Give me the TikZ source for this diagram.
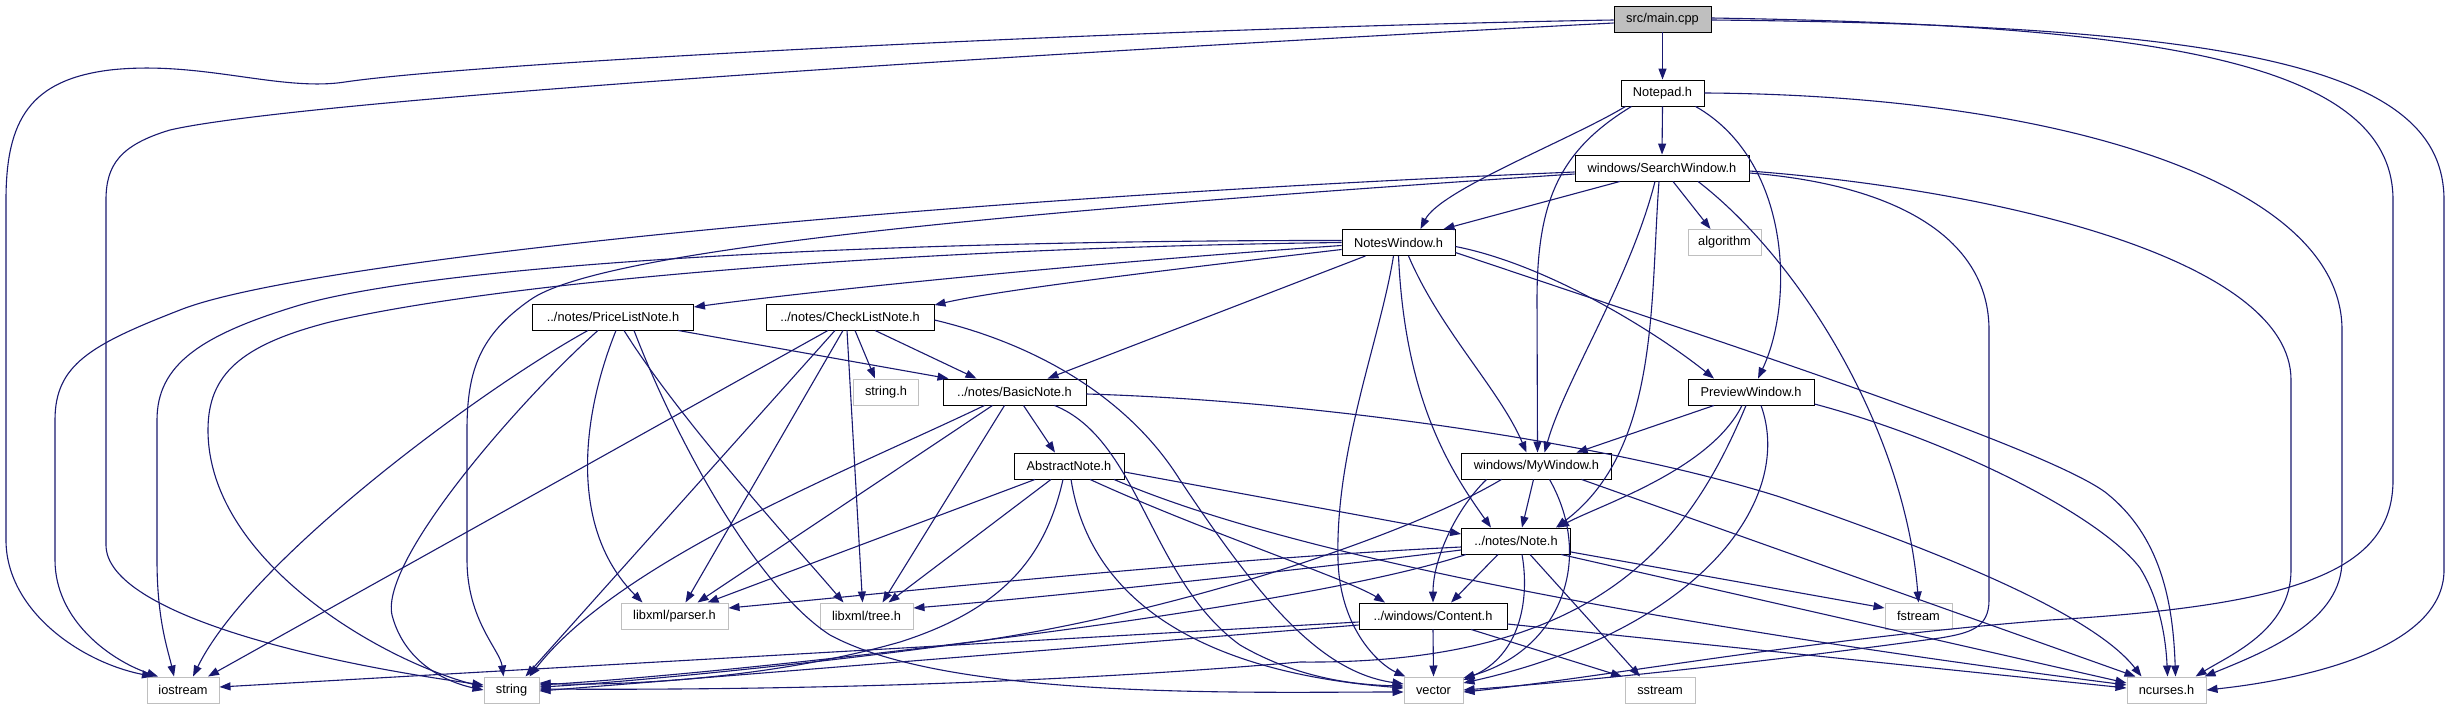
\documentclass[tikz,border=0pt]{standalone}
\usepackage{fontspec}
\setmainfont{Liberation Sans}
\usetikzlibrary{arrows.meta}
\definecolor{edgeblue}{HTML}{191970}
\definecolor{extgray}{HTML}{BFBFBF}
\begin{document}
\begin{tikzpicture}[x=1pt,y=-1pt,
  box/.style={rectangle,inner sep=0pt,minimum height=26pt,font=\fontsize{12.8}{15}\selectfont,text=black},
  int/.style={box,draw=black,line width=0.9pt,fill=white},
  ext/.style={box,draw=extgray,line width=1pt,fill=white},
  root/.style={box,draw=black,line width=0.9pt,fill=extgray},
  e/.style={draw=edgeblue,line width=1.1pt,-{Triangle[length=11pt,width=8pt]}}]
\fill[white] (0,0) rectangle (2451,709);
\useasboundingbox (0,0) rectangle (2451,709);
% nodes
\node[root,minimum width=97pt]  (main)    at (1662.5,19)  {src/main.cpp};
\node[int,minimum width=83pt]   (Notepad) at (1662.5,93)  {Notepad.h};
\node[int,minimum width=174pt]  (Search)  at (1662,168)   {windows/SearchWindow.h};
\node[int,minimum width=113pt]  (NotesW)  at (1398.5,242.5) {NotesWindow.h};
\node[ext,minimum width=73pt]   (algo)    at (1724.5,242.5) {algorithm};
\node[int,minimum width=161pt]  (Price)   at (613,317)    {../notes/PriceListNote.h};
\node[int,minimum width=168pt]  (Check)   at (850,317)    {../notes/CheckListNote.h};
\node[ext,minimum width=65pt]   (strh)    at (886,392)    {string.h};
\node[int,minimum width=143pt]  (Basic)   at (1014.5,392) {../notes/BasicNote.h};
\node[int,minimum width=126pt]  (Preview) at (1751,392)   {PreviewWindow.h};
\node[int,minimum width=110pt]  (Abstract) at (1069,466)  {AbstractNote.h};
\node[int,minimum width=150pt]  (MyW)     at (1536.5,466) {windows/MyWindow.h};
\node[int,minimum width=109pt]  (Note)    at (1516,541)   {../notes/Note.h};
\node[ext,minimum width=107pt]  (parser)  at (674.5,616)  {libxml/parser.h};
\node[ext,minimum width=93pt]   (tree)    at (866.5,616)  {libxml/tree.h};
\node[int,minimum width=148pt]  (Content) at (1433,616)   {../windows/Content.h};
\node[ext,minimum width=67pt]   (fstream) at (1918.5,616) {fstream};
\node[ext,minimum width=72pt]   (iostream) at (183,690)   {iostream};
\node[ext,minimum width=55pt]   (string)  at (511.5,690)  {string};
\node[ext,minimum width=59pt]   (vector)  at (1433.5,690) {vector};
\node[ext,minimum width=70pt]   (sstream) at (1660,690)   {sstream};
\node[ext,minimum width=79pt]   (ncurses) at (2166.5,690) {ncurses.h};
% main
\draw[e] (main.south) -- (Notepad.north);
\draw[e] ([yshift=-1pt]main.west) .. controls (1150,28) and (480,62) .. (345,82) .. controls (280,92) and (200,60) .. (110,70) .. controls (30,80) and (6,120) .. (6,200) -- (6,540) .. controls (6,610) and (80,662) .. ([xshift=-30pt]iostream.north);
\draw[e] ([yshift=-4pt]main.west) .. controls (1000,55) and (300,100) .. (170,130) .. controls (120,145) and (106,165) .. (106,200) -- (106,545) .. controls (106,610) and (300,660) .. ([yshift=5pt]string.west);
\draw[e] ([yshift=1pt]main.east) .. controls (2150,25) and (2393,60) .. (2393,200) -- (2393,480) .. controls (2393,570) and (2300,605) .. (2050,620) .. controls (1800,640) and (1600,678) .. ([yshift=-2pt]vector.east);
\draw[e] ([yshift=-1pt]main.east) .. controls (2250,25) and (2444,70) .. (2444,200) -- (2444,570) .. controls (2444,650) and (2300,680) .. (ncurses.east);
% Notepad
\draw[e] (Notepad.south) -- (Search.north);
\draw[e] ([xshift=-37pt]Notepad.south) .. controls (1570,140) and (1440,190) .. ([xshift=22pt]NotesW.north);
\draw[e] ([xshift=-31pt]Notepad.south) .. controls (1560,150) and (1537,200) .. (1537,300) -- ([xshift=1pt]MyW.north);
\draw[e] ([xshift=33pt]Notepad.south) .. controls (1790,160) and (1795,300) .. ([xshift=7pt]Preview.north);
\draw[e] (Notepad.east) .. controls (2050,95) and (2342,180) .. (2342,330) -- (2342,560) .. controls (2342,620) and (2270,650) .. ([xshift=38pt]ncurses.north);
% SearchWindow
\draw[e] ([xshift=-42pt]Search.south) -- ([xshift=45pt]NotesW.north);
\draw[e] ([xshift=11pt]Search.south) -- ([xshift=-14pt]algo.north);
\draw[e] ([xshift=-7pt]Search.south) .. controls (1630,280) and (1565,380) .. ([xshift=8pt]MyW.north);
\draw[e] ([xshift=-3pt]Search.south) .. controls (1650,300) and (1660,450) .. ([xshift=40pt]Note.north);
\draw[e] ([xshift=36pt]Search.south) .. controls (1800,260) and (1905,430) .. (fstream.north);
\draw[e] ([yshift=-5pt]Search.east) .. controls (1900,185) and (1989,240) .. (1989,330) -- (1989,600) .. controls (1989,628) and (1970,633) .. (1940,638) .. controls (1780,660) and (1600,680) .. ([yshift=0pt]vector.east);
\draw[e] ([yshift=-3pt]Search.east) .. controls (2000,190) and (2291,260) .. (2291,380) -- (2291,570) .. controls (2291,630) and (2230,655) .. ([xshift=29pt]ncurses.north);
\draw[e] ([yshift=-4pt]Search.west) .. controls (900,200) and (300,262) .. (180,310) .. controls (90,345) and (55,365) .. (55,420) -- (55,560) .. controls (55,620) and (110,660) .. ([xshift=-25pt]iostream.north);
\draw[e] ([yshift=-6pt]Search.west) .. controls (1000,212) and (600,250) .. (530,300) .. controls (480,335) and (467,370) .. (467,430) -- (467,560) .. controls (467,620) and (500,650) .. ([xshift=-8pt]string.north);
% NotesWindow
\draw[e] ([yshift=-3pt]NotesW.west) .. controls (1100,262) and (820,290) .. ([yshift=10pt]Price.east);
\draw[e] ([yshift=-7pt]NotesW.west) .. controls (1150,272) and (1000,290) .. ([yshift=12pt]Check.east);
\draw[e] ([yshift=2pt]NotesW.west) .. controls (900,240) and (450,262) .. (300,305) .. controls (200,335) and (157,365) .. (157,420) -- (157,560) .. controls (157,620) and (168,650) .. ([xshift=-9pt]iostream.north);
\draw[e] ([yshift=0pt]NotesW.west) .. controls (900,248) and (500,282) .. (330,322) .. controls (240,345) and (208,375) .. (208,430) .. controls (208,560) and (380,660) .. ([yshift=3pt]string.west);
\draw[e] ([xshift=-33pt]NotesW.south) -- ([xshift=33pt]Basic.north);
\draw[e] ([xshift=-5pt]NotesW.south) .. controls (1380,340) and (1335,450) .. (1338,560) .. controls (1340,630) and (1380,665) .. ([xshift=-28pt]vector.north);
\draw[e] (NotesW.south) .. controls (1405,400) and (1450,470) .. ([xshift=-25pt]Note.north);
\draw[e] ([xshift=10pt]NotesW.south) .. controls (1440,330) and (1500,390) .. ([xshift=-10pt]MyW.north);
\draw[e] ([yshift=-4pt]NotesW.east) .. controls (1550,265) and (1660,335) .. ([xshift=-37pt]Preview.north);
\draw[e] ([yshift=-10pt]NotesW.east) .. controls (1700,335) and (2040,445) .. (2105,492) .. controls (2160,535) and (2173,600) .. ([xshift=9pt]ncurses.north);
% PriceListNote
\draw[e] ([xshift=65pt]Price.south) -- ([xshift=-66pt]Basic.north);
\draw[e] ([xshift=-25pt]Price.south) .. controls (480,390) and (250,560) .. ([xshift=10pt]iostream.north);
\draw[e] ([xshift=-15pt]Price.south) .. controls (520,400) and (380,560) .. (392,615) .. controls (405,665) and (450,683) .. ([yshift=0pt]string.west);
\draw[e] ([xshift=3pt]Price.south) .. controls (580,420) and (570,530) .. ([xshift=-32pt]parser.north);
\draw[e] ([xshift=11pt]Price.south) .. controls (680,420) and (790,540) .. ([xshift=-23pt]tree.north);
\draw[e] ([xshift=21pt]Price.south) .. controls (680,450) and (760,590) .. (830,635) .. controls (950,700) and (1250,692) .. ([yshift=-2pt]vector.west);
% CheckListNote
\draw[e] ([xshift=-22pt]Check.south) -- ([xshift=25pt]iostream.north);
\draw[e] ([xshift=-15pt]Check.south) -- ([xshift=14pt]string.north);
\draw[e] ([xshift=-7pt]Check.south) -- ([xshift=11pt]parser.north);
\draw[e] ([xshift=-3pt]Check.south) -- ([xshift=-4pt]tree.north);
\draw[e] ([xshift=5pt]Check.south) -- ([xshift=-11pt]strh.north);
\draw[e] ([xshift=25pt]Check.south) -- ([xshift=-38pt]Basic.north);
\draw[e] ([yshift=-3pt]Check.east) .. controls (1040,345) and (1130,400) .. (1180,480) .. controls (1260,600) and (1320,672) .. ([yshift=6pt]vector.west);
% BasicNote
\draw[e] ([xshift=9pt]Basic.south) -- ([xshift=-14pt]Abstract.north);
\draw[e] ([xshift=-22pt]Basic.south) -- ([xshift=23pt]parser.north);
\draw[e] ([xshift=-10pt]Basic.south) -- ([xshift=16pt]tree.north);
\draw[e] ([xshift=-30pt]Basic.south) .. controls (850,470) and (620,560) .. ([xshift=18pt]string.north);
\draw[e] ([xshift=40pt]Basic.south) .. controls (1140,440) and (1150,580) .. (1240,645) .. controls (1300,680) and (1360,685) .. ([yshift=4pt]vector.west);
\draw[e] ([yshift=-2pt]Basic.east) .. controls (1300,400) and (1600,440) .. (1780,497) .. controls (1920,545) and (2090,610) .. ([xshift=-25pt]ncurses.north);
% AbstractNote
\draw[e] ([xshift=-34pt]Abstract.south) -- ([xshift=33pt]parser.north);
\draw[e] ([xshift=-18pt]Abstract.south) -- ([xshift=22pt]tree.north);
\draw[e] ([xshift=-6pt]Abstract.south) .. controls (1045,560) and (1000,610) .. (900,642) .. controls (760,682) and (600,686) .. ([yshift=7pt]string.east);
\draw[e] ([xshift=2pt]Abstract.south) .. controls (1090,600) and (1200,672) .. ([yshift=2pt]vector.west);
\draw[e] ([xshift=21pt]Abstract.south) .. controls (1200,530) and (1350,580) .. ([xshift=-48pt]Content.north);
\draw[e] ([yshift=-6pt]Abstract.east) -- ([yshift=7pt]Note.west);
\draw[e] ([xshift=45pt]Abstract.south) .. controls (1300,560) and (1700,630) .. ([yshift=5pt]ncurses.west);
% MyWindow
\draw[e] ([xshift=-3pt]MyW.south) -- ([xshift=6pt]Note.north);
\draw[e] ([xshift=-50pt]MyW.south) .. controls (1455,510) and (1433,560) .. (Content.north);
\draw[e] ([xshift=13pt]MyW.south) .. controls (1595,560) and (1560,650) .. ([yshift=12pt]vector.east);
\draw[e] ([xshift=-35pt]MyW.south) .. controls (1400,540) and (1150,620) .. (950,645) .. controls (780,668) and (600,684) .. ([yshift=3pt]string.east);
\draw[e] ([xshift=45pt]MyW.south) -- ([xshift=-31pt]ncurses.north);
% PreviewWindow
\draw[e] ([xshift=-37pt]Preview.south) -- ([xshift=40pt]MyW.north);
\draw[e] ([xshift=-9pt]Preview.south) .. controls (1710,470) and (1600,505) .. ([xshift=42pt]Note.north);
\draw[e] ([xshift=-5pt]Preview.south) .. controls (1690,540) and (1600,665) .. (1300,662) .. controls (1000,688) and (700,690) .. ([yshift=1pt]string.east);
\draw[e] ([xshift=10pt]Preview.south) .. controls (1795,500) and (1700,630) .. ([yshift=7pt]vector.east);
\draw[e] ([yshift=-12pt]Preview.east) .. controls (1950,440) and (2100,515) .. (2140,568) .. controls (2160,600) and (2166,640) .. ([xshift=1pt]ncurses.north);
% Note
\draw[e] ([yshift=-6pt]Note.west) .. controls (1200,560) and (900,592) .. ([yshift=8pt]parser.east);
\draw[e] ([yshift=-9pt]Note.west) .. controls (1300,570) and (1050,597) .. ([yshift=8pt]tree.east);
\draw[e] ([xshift=-50pt]Note.south) .. controls (1300,610) and (750,672) .. ([yshift=5pt]string.east);
\draw[e] ([xshift=-18pt]Note.south) -- ([xshift=18pt]Content.north);
\draw[e] ([xshift=6pt]Note.south) .. controls (1530,600) and (1520,655) .. ([yshift=10pt]vector.east);
\draw[e] ([xshift=14pt]Note.south) -- ([xshift=-20pt]sstream.north);
\draw[e] ([yshift=-11pt]Note.east) -- ([yshift=8pt]fstream.west);
\draw[e] ([xshift=45pt]Note.south) -- ([yshift=7pt]ncurses.west);
% Content
\draw[e] (Content.south) -- (vector.north);
\draw[e] ([xshift=38pt]Content.south) -- ([xshift=-38pt]sstream.north);
\draw[e] ([yshift=-6pt]Content.west) -- ([yshift=3pt]iostream.east);
\draw[e] ([yshift=-9pt]Content.west) -- ([yshift=-1pt]string.east);
\draw[e] ([yshift=-8pt]Content.east) -- ([yshift=2pt]ncurses.west);
\end{tikzpicture}
\end{document}
